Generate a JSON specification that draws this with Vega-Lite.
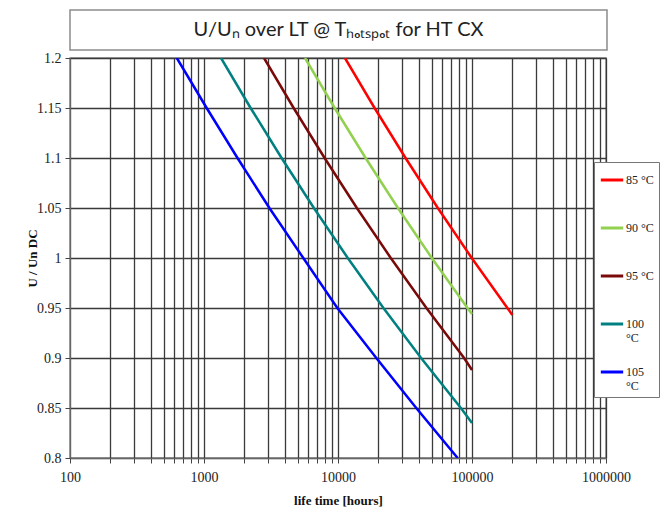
{
  "$schema": "https://vega.github.io/schema/vega-lite/v6.json",
  "background": "white",
  "padding": {"left": 25, "top": 9, "right": 5, "bottom": 5},
  "bounds": "flush",
  "spacing": 8,
  "config": {
    "font": "Liberation Serif",
    "view": {"stroke": null}
  },
  "vconcat": [
    {
      "width": 537,
      "height": 40,
      "view": {"stroke": "#8c8c8c", "strokeWidth": 1.5, "fill": "white"},
      "data": {"values": [{"t": "U/Uₙ over LT @ Tₕₒₜₛₚₒₜ for HT CX"}]},
      "mark": {"type": "text", "font": "Lato", "fontSize": 20, "color": "#222", "baseline": "middle", "align": "center"},
      "encoding": {"text": {"field": "t"}}
    },
    {
      "width": 536,
      "height": 400,
      "view": {"stroke": "#8c8c8c", "strokeWidth": 1.5},
      "data": {"values": [
        {"life": 627, "u": 1.2, "temp": "105 °C"},
        {"life": 1047, "u": 1.15, "temp": "105 °C"},
        {"life": 1778, "u": 1.1, "temp": "105 °C"},
        {"life": 3076, "u": 1.05, "temp": "105 °C"},
        {"life": 5508, "u": 1.0, "temp": "105 °C"},
        {"life": 9886, "u": 0.95, "temp": "105 °C"},
        {"life": 19320, "u": 0.9, "temp": "105 °C"},
        {"life": 38370, "u": 0.85, "temp": "105 °C"},
        {"life": 78160, "u": 0.8, "temp": "105 °C"},
        {"life": 1340, "u": 1.2, "temp": "100 °C"},
        {"life": 2228, "u": 1.15, "temp": "100 °C"},
        {"life": 3793, "u": 1.1, "temp": "100 °C"},
        {"life": 6607, "u": 1.05, "temp": "100 °C"},
        {"life": 11830, "u": 1.0, "temp": "100 °C"},
        {"life": 21830, "u": 0.95, "temp": "100 °C"},
        {"life": 41690, "u": 0.9, "temp": "100 °C"},
        {"life": 82600, "u": 0.85, "temp": "100 °C"},
        {"life": 100000, "u": 0.835, "temp": "100 °C"},
        {"life": 2805, "u": 1.2, "temp": "95 °C"},
        {"life": 4667, "u": 1.15, "temp": "95 °C"},
        {"life": 7943, "u": 1.1, "temp": "95 °C"},
        {"life": 13830, "u": 1.05, "temp": "95 °C"},
        {"life": 24770, "u": 1.0, "temp": "95 °C"},
        {"life": 45710, "u": 0.95, "temp": "95 °C"},
        {"life": 87300, "u": 0.9, "temp": "95 °C"},
        {"life": 100000, "u": 0.888, "temp": "95 °C"},
        {"life": 5675, "u": 1.2, "temp": "90 °C"},
        {"life": 9441, "u": 1.15, "temp": "90 °C"},
        {"life": 16070, "u": 1.1, "temp": "90 °C"},
        {"life": 27990, "u": 1.05, "temp": "90 °C"},
        {"life": 50120, "u": 1.0, "temp": "90 °C"},
        {"life": 92470, "u": 0.95, "temp": "90 °C"},
        {"life": 100000, "u": 0.944, "temp": "90 °C"},
        {"life": 11270, "u": 1.2, "temp": "85 °C"},
        {"life": 18750, "u": 1.15, "temp": "85 °C"},
        {"life": 31920, "u": 1.1, "temp": "85 °C"},
        {"life": 55590, "u": 1.05, "temp": "85 °C"},
        {"life": 99540, "u": 1.0, "temp": "85 °C"},
        {"life": 183700, "u": 0.95, "temp": "85 °C"},
        {"life": 200000, "u": 0.943, "temp": "85 °C"}
      ]},
      "mark": {"type": "line", "strokeWidth": 2.5, "clip": true},
      "encoding": {
        "x": {
          "field": "life", "type": "quantitative",
          "scale": {"type": "log", "domain": [100, 1000000]},
          "axis": {
            "title": "life time [hours]",
            "values": [100,200,300,400,500,600,700,800,900,1000,2000,3000,4000,5000,6000,7000,8000,9000,10000,20000,30000,40000,50000,60000,70000,80000,90000,100000,200000,300000,400000,500000,600000,700000,800000,900000,1000000],
            "labelExpr": "indexof([100,1000,10000,100000,1000000], datum.value) >= 0 ? '' + datum.value : ''",
            "labelFontSize": 14, "labelColor": "#222", "labelPadding": 7, "labelFlush": false, "labelOverlap": false,
            "tickSize": 5, "tickColor": "#444",
            "domainColor": "#666",
            "grid": true, "gridColor": "#3a3a3a", "gridWidth": 1.3, "gridOpacity": 1,
            "titleFontSize": 13, "titleFontWeight": "bold", "titleColor": "#111", "titlePadding": 10
          }
        },
        "y": {
          "field": "u", "type": "quantitative",
          "scale": {"domain": [0.8, 1.2], "zero": false},
          "axis": {
            "title": "U / Un DC",
            "values": [0.8, 0.85, 0.9, 0.95, 1.0, 1.05, 1.1, 1.15, 1.2],
            "labelExpr": "format(datum.value, '~g')",
            "labelFontSize": 14, "labelColor": "#222", "labelPadding": 4,
            "tickSize": 5, "tickColor": "#444",
            "domainColor": "#666",
            "grid": true, "gridColor": "#3a3a3a", "gridWidth": 1.3, "gridOpacity": 1,
            "titleFontSize": 13, "titleFontWeight": "bold", "titleColor": "#111", "titlePadding": -3
          }
        },
        "color": {
          "field": "temp", "type": "nominal",
          "scale": {"domain": ["85 °C", "90 °C", "95 °C", "100 °C", "105 °C"], "range": ["#ff0000", "#92d050", "#7a0a0a", "#008080", "#0000ff"]},
          "legend": {
            "title": null,
            "orient": "none", "legendX": 524, "legendY": 152,
            "fillColor": "white", "strokeColor": "#777", "padding": 5,
            "symbolType": "stroke", "symbolSize": 500, "symbolStrokeWidth": 3,
            "labelFontSize": 12, "labelColor": "#222", "labelOffset": 1,
            "labelExpr": "datum.label == '100 °C' ? ['100', '°C'] : datum.label == '105 °C' ? ['105', '°C'] : [datum.label, '']",
            "rowPadding": 15
          }
        }
      }
    }
  ]
}
